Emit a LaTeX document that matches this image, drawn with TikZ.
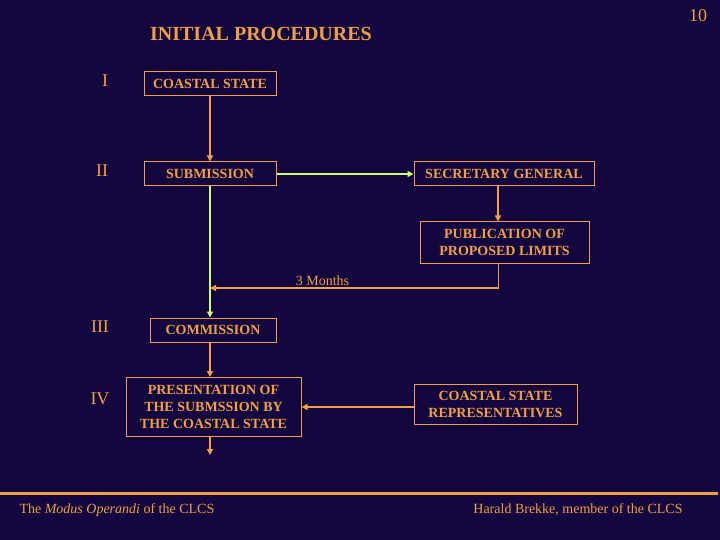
\documentclass[tikz,border=0pt]{standalone}
\usepackage{fontspec}
\setmainfont{Liberation Serif}
\usetikzlibrary{arrows.meta,positioning}
\definecolor{slidebg}{HTML}{14063E}
\definecolor{slideorange}{HTML}{EFA044}
\definecolor{slidegreen}{HTML}{CCFF77}
\tikzset{
  >={Triangle[length=6pt,width=6pt]},
  box/.style={draw=slideorange,line width=1pt,text=slideorange,align=center,
              inner sep=2pt,font=\bfseries\fontsize{14}{17}\selectfont},
  flow/.style={->,line width=1.6pt,draw=slideorange},
  gflow/.style={->,line width=1.6pt,draw=slidegreen},
  stage/.style={text=slideorange,font=\fontsize{18}{20}\selectfont},
  flowlbl/.style={text=slideorange,inner sep=2pt,font=\fontsize{14}{16}\selectfont},
  note/.style={text=slideorange,font=\fontsize{14}{16}\selectfont},
}

\begin{document}
\begin{tikzpicture}[x=1pt,y=-1pt]
  \fill[slidebg] (0,0) rectangle (720,540);
  \useasboundingbox (0,0) rectangle (720,540);

  % heading and page number
  \node[text=slideorange,font=\bfseries\fontsize{20}{22}\selectfont] (title) at (261,34) {INITIAL PROCEDURES};
  \node[note,font=\fontsize{18}{20}\selectfont] (page) at (698,16) {10};

  % stages
  \node[stage] (s1) at (105,81) {I};
  \node[stage] (s2) at (102,171) {II};
  \node[stage] (s3) at (100,327) {III};
  \node[stage] (s4) at (100,399) {IV};

  % boxes
  \node[box,minimum width=132pt,minimum height=24pt] (cs) at (210,84) {COASTAL STATE};
  \node[box,minimum width=132pt,minimum height=24pt] (sub) at (210,174) {SUBMISSION};
  \node[box,minimum width=180pt,minimum height=24pt] (sg) at (504,174) {SECRETARY GENERAL};
  \node[box,minimum width=169pt,minimum height=41pt] (pub) at (504.5,242.5)
    {PUBLICATION OF\\PROPOSED LIMITS};
  \node[box,minimum width=126pt,minimum height=24pt] (com) at (213,330) {COMMISSION};
  \node[box,minimum width=175pt,minimum height=59pt] (pres) at (213.5,407)
    {PRESENTATION OF\\THE SUBMSSION BY\\THE COASTAL STATE};
  \node[box,minimum width=163pt,minimum height=40pt] (rep) at (495.5,404)
    {COASTAL STATE\\REPRESENTATIVES};

  \coordinate (join) at (210,288);
  \coordinate (tail) at (210,455);

  \draw[flow] (cs.south) -- (sub.north);
  \draw[gflow] (sub.east) -- (sg.west);
  \draw[flow] ([xshift=-6pt]sg.south) -- ([xshift=-6pt]sg.south |- pub.north);
  \draw[flow] ([xshift=-6pt]pub.south) |- node[flowlbl,above,pos=0.805]{3 Months} (join);
  \draw[gflow] (sub.south) -- (sub.south |- com.north);
  \draw[flow] (sub.south |- com.south) -- (sub.south |- pres.north);
  \draw[flow] (sub.south |- pres.south) -- (tail);
  \draw[flow] (pres.east -| rep.west) -- (pres.east);

  % footer
  \draw[slideorange,line width=3pt] (0,493) -- (718,493);
  \node[note,anchor=west] (foot1) at (16,510) {The \textit{Modus Operandi} of the CLCS};
  \node[note] (foot2) at (578,510) {Harald Brekke, member of the CLCS};
\end{tikzpicture}
\end{document}
